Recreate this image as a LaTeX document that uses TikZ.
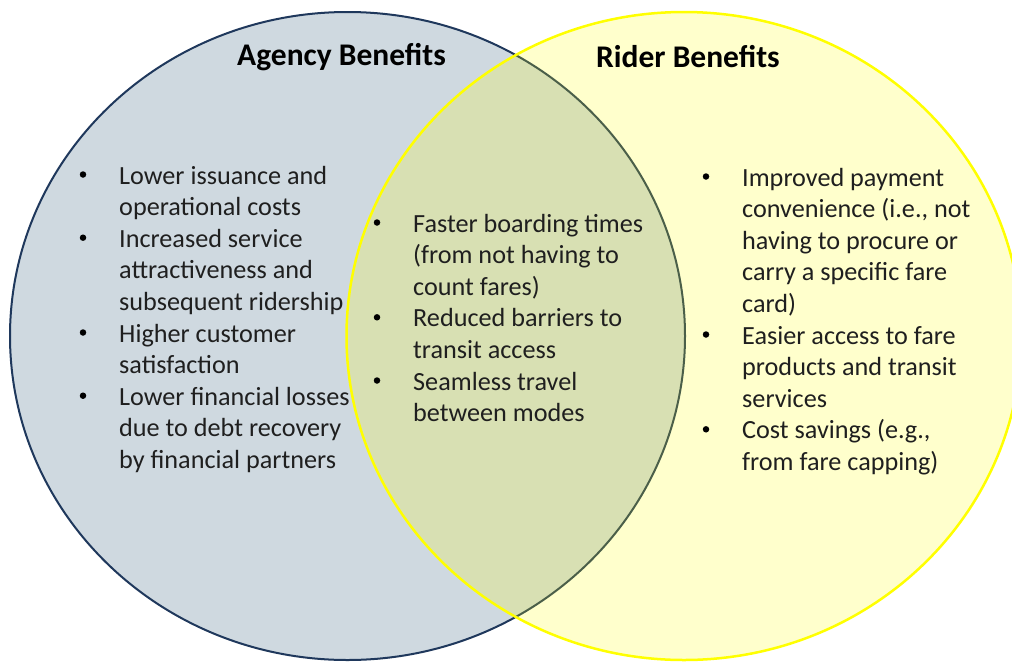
\documentclass[tikz,border=0pt]{standalone}
\usepackage{fontspec}
\setmainfont{Carlito}
\definecolor{agencyfill}{RGB}{207,217,224}
\definecolor{agencyline}{RGB}{31,56,92}
\definecolor{riderline}{RGB}{255,255,0}
\begin{document}
\begin{tikzpicture}[x=1pt,y=-1pt,
  txt/.style={anchor=base west,inner sep=0pt,font=\fontsize{26.2}{30}\selectfont,text=black!88},
  bul/.style={circle,fill=black,inner sep=0pt,minimum size=6.5pt},
  ttl/.style={anchor=base west,inner sep=0pt,font=\fontsize{31.5}{34}\selectfont\bfseries}]
\useasboundingbox (0,0) rectangle (1012,662);
\clip (0,0) rectangle (1012,662);
\fill[white] (0,0) rectangle (1012,662);
% circles
\draw[agencyline,line width=2pt,fill=agencyfill] (347.5,336) ellipse [x radius=337.5pt,y radius=324pt];
\fill[riderline,fill opacity=0.2] (684,336) ellipse [x radius=337.5pt,y radius=324pt];
\draw[riderline,line width=2.5pt] (684,336) ellipse [x radius=337.5pt,y radius=324pt];
% titles
\node[ttl] (agencyT) at (237,65) {Agency Benefits};
\node[ttl] (riderT) at (596,67) {Rider Benefits};
% left column
\foreach \t [count=\i] in {{Lower issuance and},{operational costs},{Increased service},{attractiveness and},{subsequent ridership},{Higher customer},{satisfaction},{Lower financial losses},{due to debt recovery},{by financial partners}}
  \node[txt] (A\i) at (119,{184+(\i-1)*31.6}) {\t};
\foreach \i in {1,3,6,8}
  \node[bul] (AB\i) at (83,{184-9.5+(\i-1)*31.6}) {};
% middle column
\foreach \t [count=\i] in {{Faster boarding times},{(from not having to},{count fares)},{Reduced barriers to},{transit access},{Seamless travel},{between modes}}
  \node[txt] (M\i) at (413,{232+(\i-1)*31.6}) {\t};
\foreach \i in {1,4,6}
  \node[bul] (MB\i) at (377,{232-9.5+(\i-1)*31.6}) {};
% right column
\foreach \t [count=\i] in {{Improved payment},{convenience (i.e., not},{having to procure or},{carry a specific fare},{card)},{Easier access to fare},{products and transit},{services},{Cost savings (e.g.,},{from fare capping)}}
  \node[txt] (R\i) at (742,{186+(\i-1)*31.6}) {\t};
\foreach \i in {1,6,9}
  \node[bul] (RB\i) at (706,{186-9.5+(\i-1)*31.6}) {};
\end{tikzpicture}
\end{document}
